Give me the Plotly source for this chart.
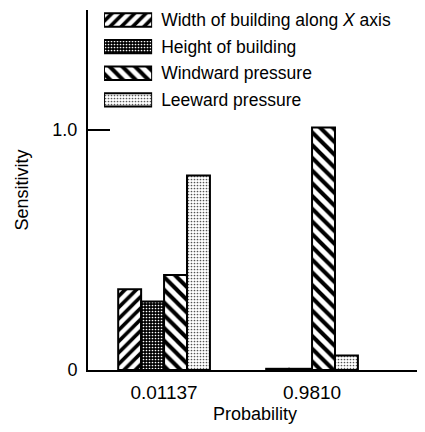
import plotly.graph_objects as go

categories = ["0.01137", "0.9810"]
series_names = [
    "Width of building along <i>X</i> axis",
    "Height of building",
    "Windward pressure",
    "Leeward pressure",
]
width_vals = [0.336, 0.005]
height_vals = [0.285, 0.005]
windward_vals = [0.396, 1.01]
leeward_vals = [0.81, 0.06]
y_tick_vals = [0, 1.0]
y_tick_text = ["0", "1.0"]

series_vals = [width_vals, height_vals, windward_vals, leeward_vals]
shapes = ["/", ".", "\\", "."]
bgcolors = ["white", "black", "white", "white"]
fgcolors = ["black", "white", "black", "#555555"]
sizes = [8, 3, 9, 3]
solids = [0.45, 0.25, 0.45, 0.25]

FONT = "Liberation Sans, Arial, sans-serif"

fig = go.Figure()
for name, vals, sh, bg, fg, sz, so in zip(series_names, series_vals, shapes, bgcolors, fgcolors, sizes, solids):
    fig.add_trace(go.Bar(
        x=categories, y=vals, name=name, showlegend=False,
        marker=dict(color=bg, line=dict(color="black", width=2),
                    pattern=dict(shape=sh, bgcolor=bg, fgcolor=fg, size=sz, solidity=so, fillmode="replace")),
    ))

# legend drawn as an inset bar chart (swatches + labels)
for name, sh, bg, fg, sz, so in zip(series_names, shapes, bgcolors, fgcolors, sizes, solids):
    fig.add_trace(go.Bar(
        y=[name], x=[1], orientation="h",
        xaxis="x2", yaxis="y2", width=0.5, offset=-0.25, showlegend=False,
        marker=dict(color=bg, line=dict(color="black", width=2),
                    pattern=dict(shape=sh, bgcolor=bg, fgcolor=fg, size=sz, solidity=so, fillmode="replace")),
    ))

fig.update_layout(
    width=417, height=424,
    margin=dict(l=80, r=3, t=2, b=62),
    paper_bgcolor="white", plot_bgcolor="white",
    barmode="group", bargap=0.38, bargroupgap=0,
    font=dict(family=FONT, size=17, color="black"),
    xaxis=dict(type="category", range=[-0.514, 1.743], showline=True, linecolor="black", linewidth=2,
               ticks="", showgrid=False, zeroline=False,
               tickfont=dict(size=19), ticklabelstandoff=4,
               title=dict(text="Probability", font=dict(size=18), standoff=6)),
    yaxis=dict(range=[0, 1.5], showline=True, linecolor="black", linewidth=2,
               tickvals=y_tick_vals, ticktext=y_tick_text, ticks="inside", ticklen=22, tickwidth=2,
               tickcolor="black", showgrid=False, zeroline=False,
               tickfont=dict(size=18), ticklabelstandoff=5,
               title=dict(text="Sensitivity", font=dict(size=18), standoff=19)),
    xaxis2=dict(domain=[0.048, 0.192], range=[0, 1], anchor="y2", visible=False, fixedrange=True),
    yaxis2=dict(domain=[0.714, 1.0], range=[3.49, -0.375], anchor="x2", side="right",
                type="category", categoryorder="array", categoryarray=series_names,
                showline=False, showgrid=False, zeroline=False, ticks="",
                tickfont=dict(size=17.5), ticklabelstandoff=8),
)

fig.write_html("out.html")
